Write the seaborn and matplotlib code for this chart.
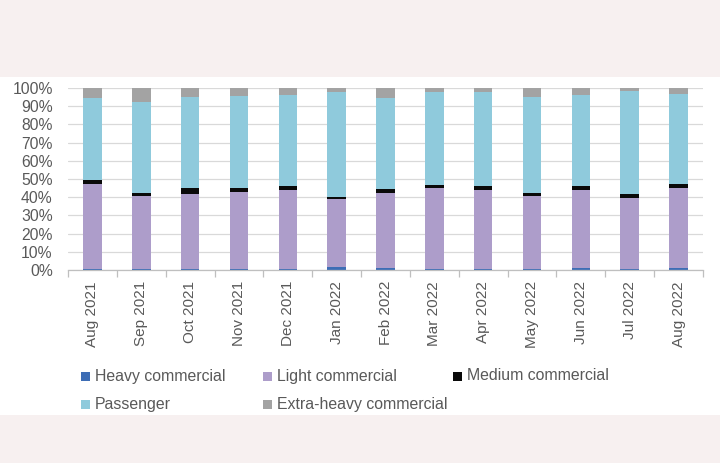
import numpy as np
import pandas as pd
import matplotlib
matplotlib.use("Agg")
import matplotlib.pyplot as plt
import seaborn as sns
from matplotlib.patches import Rectangle
from matplotlib.ticker import FixedLocator

months = ["Aug 2021", "Sep 2021", "Oct 2021", "Nov 2021", "Dec 2021", "Jan 2022",
          "Feb 2022", "Mar 2022", "Apr 2022", "May 2022", "Jun 2022", "Jul 2022", "Aug 2022"]
heavy = [0.5, 0.5, 0.5, 0.5, 0.5, 1.5, 1.0, 0.5, 0.5, 0.5, 1.0, 0.5, 1.0]
light = [46.8, 39.9, 41.2, 42.1, 43.2, 37.4, 41.2, 44.8, 43.5, 40.2, 43.2, 39.3, 44.3]
medium = [2.2, 2.0, 3.3, 2.7, 2.2, 1.3, 2.4, 1.5, 2.1, 1.7, 1.9, 1.9, 2.0]
passenger = [44.8, 50.1, 49.9, 50.5, 50.1, 57.8, 49.7, 50.8, 51.7, 52.6, 49.9, 56.8, 49.4]
extra_heavy = [5.7, 7.5, 5.1, 4.2, 4.0, 2.0, 5.7, 2.4, 2.2, 5.0, 4.0, 1.5, 3.3]

series = ["Heavy commercial", "Light commercial", "Medium commercial",
          "Passenger", "Extra-heavy commercial"]
colors = ["#3d6db5", "#ad9dca", "#0a0a0a", "#8fcadc", "#a3a3a3"]
values = [heavy, light, medium, passenger, extra_heavy]

sns.set_theme(style="white")
plt.rcParams['font.family'] = ['Liberation Sans', 'DejaVu Sans']

fig = plt.figure(figsize=(7.2, 4.63), dpi=100)
fig.patch.set_facecolor("#f7f0f0")
fig.patches.append(Rectangle((0, 48 / 463), 1, 338 / 463, transform=fig.transFigure,
                             facecolor="white", edgecolor="none", zorder=-5))

ax = fig.add_axes([68 / 720, (463 - 270) / 463, 635 / 720, 182 / 463])
ax.set_facecolor("none")
ax.set_zorder(2)

cum = np.cumsum(np.array(values), axis=0)
for i in reversed(range(len(series))):
    sns.barplot(x=months, y=cum[i], order=months, color=colors[i], saturation=1,
                width=0.38, errorbar=None, ax=ax, zorder=2, linewidth=0,
                edgecolor="none")

ax.set_ylim(0, 100)
ax.set_xlim(-0.5, len(months) - 0.5)
ax.set_yticks(np.arange(0, 101, 10))
ax.set_yticklabels([f"{v}%" for v in range(0, 101, 10)])
ax.yaxis.grid(True, color="#d9d9d9", lw=0.9)
ax.set_axisbelow(True)
for s in ["left", "top", "right"]:
    ax.spines[s].set_visible(False)
ax.spines["bottom"].set_color("#bfbfbf")
ax.spines["bottom"].set_linewidth(0.9)

ax.set_xticks(range(len(months)))
ax.set_xticklabels(months, rotation=90)
ax.xaxis.set_minor_locator(FixedLocator(np.arange(-0.5, len(months), 1.0)))
ax.tick_params(axis="x", which="major", length=0, pad=8, labelsize=11, labelcolor="#595959")
ax.tick_params(axis="x", which="minor", length=5, color="#bfbfbf", width=0.9, bottom=True)
ax.tick_params(axis="y", length=0, pad=11, labelsize=11.3, labelcolor="#595959")
ax.set_xlabel("")
ax.set_ylabel("")

# legend (two rows, Excel-like layout)
legend_pos = [(81, 376), (263, 376), (453, 376), (81, 404), (263, 404)]
for (px, py), name, col in zip(legend_pos, series, colors):
    fig.patches.append(Rectangle((px / 720, (463 - py - 4.5) / 463), 9 / 720, 9 / 463,
                                 transform=fig.transFigure, facecolor=col,
                                 edgecolor="none", zorder=3))
    fig.text((px + 14) / 720, (463 - py) / 463, name, fontsize=11.4, color="#595959",
             va="center", ha="left")

fig.savefig("out.png", dpi=100, facecolor=fig.get_facecolor())
